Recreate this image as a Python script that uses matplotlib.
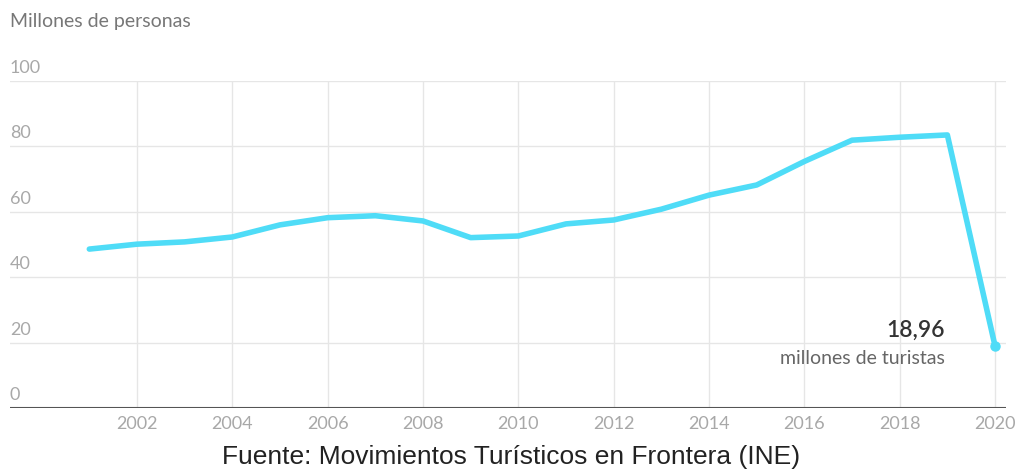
import matplotlib
matplotlib.use('Agg')
import matplotlib.pyplot as plt

years = list(range(2001, 2021))
turistas = [48.6, 50.1, 50.8, 52.3, 56.0, 58.2, 58.8, 57.2, 52.1, 52.6,
            56.3, 57.5, 60.8, 65.1, 68.2, 75.4, 81.9, 82.8, 83.5, 18.96]
yticks = [0, 20, 40, 60, 80, 100]
xticks = list(range(2002, 2021, 2))

line_color = '#4fdcf7'
grid_color = '#e6e6e6'
tick_color = '#a8a8a8'

fig = plt.figure(figsize=(10.16, 4.69), dpi=100)
ax = fig.add_axes([10/1016, 61/469, 996/1016, 327/469])

ax.set_xlim(1999.336, 2020.23)
ax.set_ylim(0, 100)

for y in yticks[1:]:
    ax.axhline(y, color=grid_color, lw=1, zorder=0)
for x in xticks:
    ax.axvline(x, color=grid_color, lw=1, zorder=0)
ax.axhline(0, color='#555555', lw=1.5, zorder=1)

ax.plot(years, turistas, color=line_color, lw=4, solid_joinstyle='round',
        solid_capstyle='round', zorder=3)
ax.plot(years[-1], turistas[-1], 'o', color=line_color, ms=6.5, zorder=4)

for s in ax.spines.values():
    s.set_visible(False)
ax.set_xticks([])
ax.set_yticks([])

# y labels sit above their gridline at the left edge
for y in yticks:
    ax.text(1999.336, y + 1.5, str(y), ha='left', va='bottom',
            fontsize=13, color=tick_color, family='Lato')
for x in xticks:
    ax.text(x, -2.5, str(x), ha='center', va='top',
            fontsize=13, color=tick_color, family='Lato')

ax.text(2018.95, 23.8, '18,96', ha='right', va='center',
        fontsize=16.5, color='#333333', family='Lato', fontweight='semibold')
ax.text(2018.95, 15.2, 'millones de turistas', ha='right', va='center',
        fontsize=14, color='#666666', family='Lato')

fig.text(10/1016, 1 - 22/469, 'Millones de personas', ha='left', va='center',
         fontsize=14, color='#777777', family='Lato')
fig.text(511/1016, 1 - 457/469, 'Fuente: Movimientos Turísticos en Frontera (INE)',
         ha='center', va='center', fontsize=19, color='#222222',
         family='Liberation Sans')

fig.savefig('out.png', dpi=100)
